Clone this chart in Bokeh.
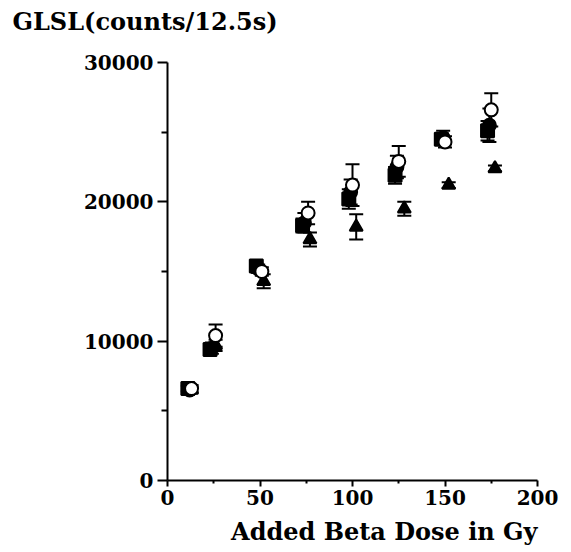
from bokeh.plotting import figure
from bokeh.models import Range1d, FixedTicker, Whisker, ColumnDataSource, TeeHead, Title
from bokeh.embed import file_html
from bokeh.resources import INLINE

# Data
x_ticks = [0, 50, 100, 150, 200]
y_ticks = [0, 10000, 20000, 30000]

sq_x = [11, 23, 48, 73, 98, 123, 148, 173]
sq_y = [6600, 9400, 15400, 18300, 20200, 21900, 24500, 25100]
sq_e = [200, 300, 200, 500, 700, 600, 400, 700]

fc_x = [12, 24, 49, 74, 99, 124, 149, 174]
fc_y = [6500, 9500, 15200, 18500, 20700, 22500, 24600, 25500]
fc_e = [250, 400, 300, 700, 900, 800, 500, 1200]

oc_x = [13, 26, 51, 76, 100, 125, 150, 175]
oc_y = [6600, 10400, 15000, 19200, 21200, 22900, 24300, 26600]
oc_e = [250, 800, 300, 800, 1500, 1100, 400, 1200]

tr_x = [13, 26, 52, 77, 102, 128, 152, 177]
tr_y = [6500, 9700, 14300, 17300, 18200, 19500, 21200, 22400]
tr_e = [200, 400, 500, 500, 900, 500, 200, 200]

FONT = "DejaVu Serif"

p = figure(width=563, height=552, output_backend="svg", toolbar_location=None,
           x_range=Range1d(0, 200), y_range=Range1d(0, 30000),
           min_border_left=167, min_border_right=26, min_border_top=62, min_border_bottom=10)
p.outline_line_color = None
p.xgrid.visible = False
p.ygrid.visible = False
p.background_fill_color = "white"
p.border_fill_color = "white"

for ax in (p.xaxis[0], p.yaxis[0]):
    ax.axis_line_width = 2
    ax.axis_line_color = "black"
    ax.major_tick_line_width = 2
    ax.minor_tick_line_width = 2
    ax.major_tick_line_color = "black"
    ax.minor_tick_line_color = "black"
    ax.major_tick_in = 0
    ax.minor_tick_in = 0
    ax.major_label_text_font = FONT
    ax.major_label_text_font_style = "bold"
    ax.major_label_text_font_size = "20px"
    ax.major_label_text_color = "black"

p.xaxis.ticker = FixedTicker(ticks=x_ticks, minor_ticks=[25, 75, 125, 175])
p.yaxis.ticker = FixedTicker(ticks=y_ticks, minor_ticks=[5000, 15000, 25000])
p.xaxis.major_tick_out = 6
p.xaxis.minor_tick_out = 3
p.yaxis.major_tick_out = 10
p.yaxis.minor_tick_out = 6
p.xaxis.major_label_standoff = 3
p.yaxis.major_label_standoff = 4

def add_series(xs, ys, es, marker, fill):
    src = ColumnDataSource(dict(x=xs, y=ys,
                                lo=[a - b for a, b in zip(ys, es)],
                                hi=[a + b for a, b in zip(ys, es)]))
    w = Whisker(source=src, base="x", lower="lo", upper="hi",
                line_color="black", line_width=2,
                upper_head=TeeHead(size=14, line_color="black", line_width=2),
                lower_head=TeeHead(size=14, line_color="black", line_width=2))
    p.add_layout(w)
    p.scatter("x", "y", source=src, marker=marker, size=13,
              fill_color=fill, line_color="black", line_width=2)

add_series(sq_x, sq_y, sq_e, "square", "black")
add_series(fc_x, fc_y, fc_e, "circle", "black")
add_series(tr_x, tr_y, tr_e, "triangle", "black")
add_series(oc_x, oc_y, oc_e, "circle", "white")

top_title = Title(text="GLSL(counts/12.5s)\n", align="left", offset=-155,
                  text_font=FONT, text_font_style="bold", text_font_size="24px",
                  text_color="black", standoff=-4)
p.add_layout(top_title, "above")

xlab = Title(text="Added Beta Dose in Gy", align="right", offset=0,
             text_font=FONT, text_font_style="bold", text_font_size="24px",
             text_color="black", standoff=14)
p.add_layout(xlab, "below")

open("out.html", "w").write(file_html(p, INLINE))
